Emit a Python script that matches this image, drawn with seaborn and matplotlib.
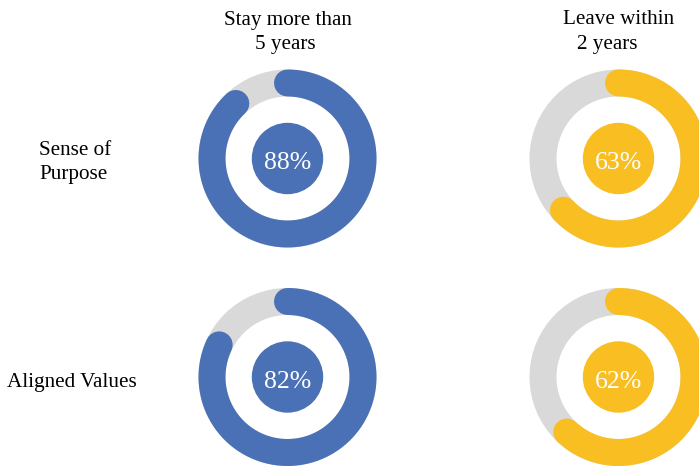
import numpy as np
import pandas as pd
import matplotlib
matplotlib.use("Agg")
import matplotlib.pyplot as plt
from matplotlib.patches import Circle
import seaborn as sns

# Data
row_labels = [("Sense of", "Purpose"), ("Aligned Values",)]
col_labels = [("Stay more than", "5 years"), ("Leave within", "2 years")]
values = [[88, 63],
          [82, 62]]

# Styling
col_colors = ["#4A70B6", "#F9BE21"]
track_color = "#D9D9D9"
W, H, DPI = 699, 466, 100
label_size = 15.2
value_size = 18.5

sns.set_theme(style="white")
plt.rcParams["font.family"] = ["Liberation Serif", "DejaVu Serif"]

fig = plt.figure(figsize=(W / DPI, H / DPI), dpi=DPI)
ax = fig.add_axes([0, 0, 1, 1])

# Layout (pixel units)
col_x = [287.5, 618.5]
row_y = [158.5, 377.0]
ring_r = 75.5          # centre-line radius of the ring
ring_w_px = 27.0       # ring thickness
core_r = 35.0          # inner filled disc
ring_lw = ring_w_px * 72 / DPI

for i, ry in enumerate(row_y):
    for j, cx in enumerate(col_x):
        pct = values[i][j]
        color = col_colors[j]
        # full grey track
        ax.add_patch(Circle((cx, ry), ring_r, fill=False, edgecolor=track_color,
                            linewidth=ring_lw, zorder=1))
        # progress arc, clockwise from 12 o'clock, round caps
        phi = np.linspace(0, 2 * np.pi * pct / 100, 400)
        arc = pd.DataFrame({"x": cx + ring_r * np.sin(phi),
                            "y": ry - ring_r * np.cos(phi)})
        sns.lineplot(data=arc, x="x", y="y", sort=False, estimator=None,
                     color=color, linewidth=ring_lw, solid_capstyle="round",
                     ax=ax, zorder=2, legend=False)
        # centre disc with value
        ax.add_patch(Circle((cx, ry), core_r, color=color, zorder=3))
        ax.text(cx, ry + 10.5, f"{pct}%", color="white", fontsize=value_size,
                ha="center", va="baseline", zorder=4)

ax.set_xlim(0, W)
ax.set_ylim(H, 0)
ax.set_aspect("equal")
ax.axis("off")

# Column headers: (x, baseline) for each line
header_pos = [[(287.5, 24.8), (285.5, 49.0)],
              [(618.3, 24.0), (607.3, 49.0)]]
for lines, pos in zip(col_labels, header_pos):
    for txt, (x, y) in zip(lines, pos):
        ax.text(x, y, txt, fontsize=label_size, ha="center", va="baseline",
                color="black")

# Row labels, left aligned: (x, baseline) for each line
row_label_pos = [[(39.3, 154.8), (39.3, 178.5)],
                 [(7.3, 386.7)]]
for lines, pos in zip(row_labels, row_label_pos):
    for txt, (x, y) in zip(lines, pos):
        ax.text(x, y, txt, fontsize=label_size, ha="left", va="baseline",
                color="black")

fig.savefig("out.png", dpi=DPI, facecolor="white")
